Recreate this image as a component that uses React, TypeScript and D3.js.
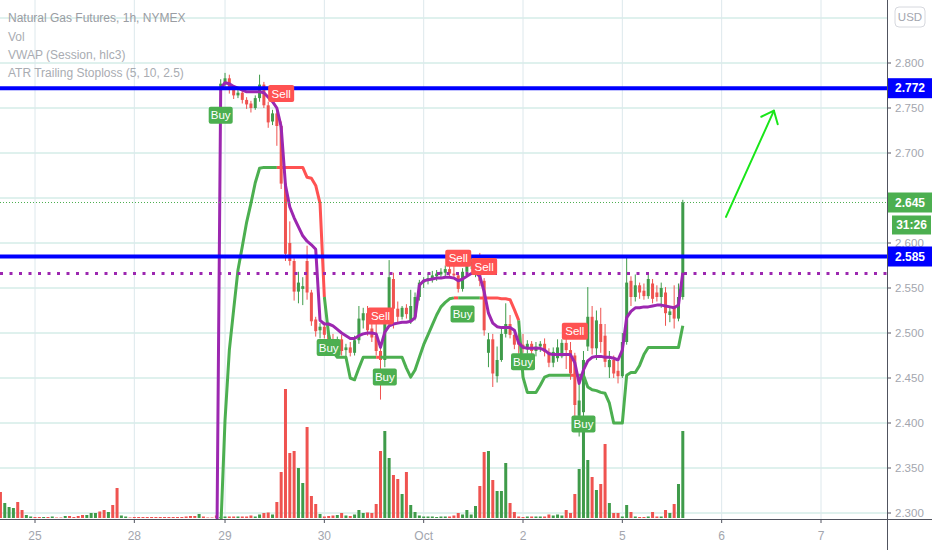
import * as d3 from 'd3'

// hourly candles, first one is bar #52 (bars before it sit below the visible range)
const FIRST_CANDLE = 52
const opens = [
  2.772, 2.776, 2.783, 2.771, 2.764, 2.767, 2.759, 2.755, 2.750, 2.761, 2.776, 2.753, 2.735, 2.744, 2.730, 2.666,
  2.600, 2.580, 2.546, 2.549, 2.580, 2.545, 2.515, 2.503, 2.507, 2.498, 2.492, 2.486, 2.493, 2.481, 2.484, 2.478,
  2.492, 2.514, 2.522, 2.505, 2.497, 2.480, 2.470, 2.515, 2.560, 2.527, 2.518, 2.528, 2.514, 2.518, 2.540, 2.556,
  2.558, 2.561, 2.563, 2.565, 2.567, 2.571, 2.566, 2.564, 2.549, 2.568, 2.576, 2.570, 2.578, 2.558, 2.478, 2.493,
  2.452, 2.470, 2.499, 2.510, 2.498, 2.493, 2.487, 2.482, 2.488, 2.480, 2.485, 2.488, 2.479, 2.467, 2.472, 2.474,
  2.489, 2.481, 2.475, 2.408, 2.412, 2.485, 2.518, 2.483, 2.510, 2.497, 2.462, 2.470, 2.458, 2.452, 2.490, 2.558,
  2.540, 2.553, 2.547, 2.541, 2.555, 2.545, 2.540, 2.545, 2.520, 2.530, 2.516, 2.540,
]
const highs = [
  2.782, 2.789, 2.787, 2.775, 2.770, 2.769, 2.762, 2.758, 2.764, 2.787, 2.779, 2.757, 2.748, 2.751, 2.735, 2.668,
  2.624, 2.583, 2.568, 2.562, 2.597, 2.548, 2.518, 2.511, 2.512, 2.503, 2.499, 2.496, 2.498, 2.488, 2.490, 2.497,
  2.530, 2.528, 2.530, 2.518, 2.510, 2.487, 2.520, 2.581, 2.567, 2.535, 2.530, 2.532, 2.548, 2.545, 2.559, 2.562,
  2.566, 2.569, 2.570, 2.572, 2.575, 2.576, 2.578, 2.567, 2.572, 2.580, 2.584, 2.583, 2.589, 2.561, 2.500, 2.499,
  2.485, 2.505, 2.533, 2.520, 2.501, 2.500, 2.499, 2.492, 2.491, 2.490, 2.491, 2.494, 2.483, 2.484, 2.493, 2.493,
  2.495, 2.490, 2.478, 2.447, 2.480, 2.551, 2.530, 2.525, 2.528, 2.510, 2.480, 2.475, 2.468, 2.500, 2.584, 2.563,
  2.565, 2.556, 2.555, 2.566, 2.560, 2.553, 2.556, 2.551, 2.530, 2.553, 2.555, 2.648,
]
const lows = [
  2.770, 2.772, 2.766, 2.760, 2.761, 2.755, 2.749, 2.745, 2.748, 2.757, 2.750, 2.728, 2.731, 2.708, 2.660, 2.580,
  2.575, 2.536, 2.533, 2.531, 2.537, 2.508, 2.496, 2.494, 2.494, 2.486, 2.480, 2.480, 2.475, 2.474, 2.474, 2.475,
  2.488, 2.505, 2.497, 2.490, 2.475, 2.426, 2.462, 2.508, 2.505, 2.512, 2.515, 2.516, 2.510, 2.514, 2.536, 2.550,
  2.554, 2.556, 2.558, 2.560, 2.563, 2.562, 2.560, 2.545, 2.546, 2.564, 2.571, 2.562, 2.552, 2.497, 2.462, 2.440,
  2.445, 2.468, 2.495, 2.494, 2.482, 2.477, 2.478, 2.477, 2.476, 2.474, 2.479, 2.474, 2.462, 2.462, 2.468, 2.472,
  2.460, 2.448, 2.390, 2.385, 2.395, 2.480, 2.476, 2.470, 2.478, 2.462, 2.450, 2.450, 2.444, 2.450, 2.487, 2.530,
  2.535, 2.538, 2.537, 2.538, 2.533, 2.535, 2.528, 2.508, 2.512, 2.505, 2.513, 2.537,
]
const closes = [
  2.777, 2.783, 2.771, 2.764, 2.767, 2.759, 2.754, 2.750, 2.761, 2.776, 2.753, 2.734, 2.744, 2.730, 2.666, 2.588,
  2.580, 2.546, 2.556, 2.552, 2.545, 2.513, 2.502, 2.507, 2.498, 2.492, 2.485, 2.493, 2.480, 2.484, 2.478, 2.492,
  2.516, 2.522, 2.503, 2.495, 2.480, 2.470, 2.515, 2.562, 2.527, 2.518, 2.528, 2.521, 2.530, 2.540, 2.556, 2.558,
  2.561, 2.564, 2.566, 2.568, 2.571, 2.566, 2.564, 2.549, 2.568, 2.576, 2.579, 2.578, 2.558, 2.503, 2.493, 2.455,
  2.470, 2.499, 2.510, 2.498, 2.487, 2.487, 2.482, 2.488, 2.480, 2.485, 2.488, 2.479, 2.467, 2.479, 2.484, 2.489,
  2.481, 2.455, 2.420, 2.425, 2.470, 2.518, 2.483, 2.514, 2.490, 2.468, 2.470, 2.455, 2.452, 2.490, 2.556, 2.540,
  2.553, 2.545, 2.541, 2.560, 2.538, 2.540, 2.550, 2.522, 2.524, 2.516, 2.540, 2.645,
]

// volume, first bar is #1
const FIRST_VOL = 1
const volumes = [
  26, 15, 11, 10, 16, 8, 3, 1.5, 1, 1, 1, 1, 1.5, 0.5, 0.5, 2, 2, 1, 2, 3, 3, 5, 5, 6.5, 8, 6, 13, 30, 2.5, 1.5,
  0.5, 1, 1, 1, 1, 1, 1, 1, 1, 1, 1, 1, 1, 1.5, 2, 2, 4, 1.5, 0.5, 0.5, 2.5,
  1, 1.5, 1.5, 1.5, 1.5, 1.5, 1.5, 2.5, 1.5, 3.5, 5, 5.5, 3.5, 16, 46, 129, 65, 67, 50, 35, 91, 22, 14, 4,
  1.5, 2, 2.5, 3, 5, 2.5, 2, 3.5, 8, 5, 5.5, 5, 14, 67, 87, 60, 43, 39, 24, 46, 13, 6, 2.5, 1.5,
  1.5, 1.5, 1, 1.5, 1.5, 1.5, 2.5, 5, 3.5, 8, 3.5, 12, 32, 66, 67, 38, 27, 27, 55, 15, 6, 1.5,
  1, 1.5, 1.5, 1.5, 1.5, 1.5, 3.5, 2.5, 3.5, 2.5, 8, 5, 24, 49, 87, 58, 41, 28, 34, 74, 15, 5,
  5, 1.5, 13, 6, 1.5, 1, 1, 1.5, 6, 1.5, 1.5, 8, 5, 14, 34, 87,
]
// up (u) / down (d) for the volume bars before the first visible candle
const earlyVolDir = 'duuudduudd' + 'ududdudddd' + 'uuuddudduu' + 'dddddddddd' + 'dddddduddd' + 'd'

// indicator lines, first value is bar #51
const FIRST_LINE = 51
const vwap = [
  2.20, 2.772, 2.778, 2.777, 2.774, 2.772, 2.770, 2.768, 2.768, 2.768, 2.768, 2.767, 2.762, 2.757, 2.750, 2.729,
  2.664, 2.640, 2.628, 2.618, 2.608, 2.602, 2.598, 2.593, 2.514, 2.510, 2.510, 2.508, 2.504, 2.500, 2.497, 2.494,
  2.494, 2.497, 2.499, 2.500, 2.500, 2.499, 2.484, 2.501, 2.508, 2.510, 2.511, 2.512, 2.512, 2.513, 2.517, 2.553,
  2.558, 2.559, 2.560, 2.561, 2.561, 2.562, 2.562, 2.561, 2.558, 2.560, 2.563, 2.566, 2.567, 2.563, 2.546, 2.522,
  2.511, 2.507, 2.506, 2.506, 2.506, 2.503, 2.489, 2.484, 2.483, 2.483, 2.483, 2.483, 2.481, 2.477, 2.476, 2.476,
  2.476, 2.476, 2.476, 2.467, 2.444, 2.459, 2.469, 2.473, 2.474, 2.474, 2.473, 2.473, 2.472, 2.470, 2.481, 2.517,
  2.524, 2.528, 2.528, 2.529, 2.529, 2.530, 2.531, 2.531, 2.530, 2.529, 2.528, 2.531, 2.567,
]
const atrStop = [
  2.20, 2.28, 2.403, 2.481, 2.526, 2.570, 2.596, 2.623, 2.644, 2.667, 2.683, 2.684, 2.684, 2.684, 2.684, 2.684,
  2.684, 2.684, 2.684, 2.684, 2.684, 2.673, 2.672, 2.664, 2.644, 2.540, 2.498, 2.479, 2.473, 2.473, 2.473, 2.450,
  2.448, 2.461, 2.473, 2.473, 2.473, 2.473, 2.473, 2.473, 2.473, 2.473, 2.473, 2.473, 2.461, 2.451, 2.459, 2.473,
  2.487, 2.498, 2.509, 2.520, 2.529, 2.534, 2.538, 2.539, 2.539, 2.539, 2.539, 2.539, 2.539, 2.539, 2.539, 2.539,
  2.539, 2.539, 2.538, 2.538, 2.537, 2.526, 2.514, 2.451, 2.434, 2.434, 2.434, 2.442, 2.451, 2.453, 2.453, 2.453,
  2.453, 2.453, 2.453, 2.453, 2.453, 2.453, 2.440, 2.437, 2.436, 2.434, 2.433, 2.422, 2.400, 2.400, 2.400, 2.453,
  2.456, 2.456, 2.464, 2.476, 2.484, 2.484, 2.484, 2.484, 2.484, 2.484, 2.484, 2.484, 2.508,
]

// stoploss signals: bar, kind, price where the tag sits
const signalBars = [52, 66, 77, 89, 90, 107, 108, 113, 122, 134, 136]
const signalKinds = ['Buy', 'Sell', 'Buy', 'Sell', 'Buy', 'Sell', 'Buy', 'Sell', 'Buy', 'Sell', 'Buy']
const signalPrices = [2.742, 2.766, 2.484, 2.519, 2.451, 2.583, 2.521, 2.574, 2.468, 2.502, 2.399]

const blueLevels = [2.772, 2.585]
const dottedLevel = 2.566
const lastPrice = 2.645
const countdown = '31:26'

const priceTicks = [2.3, 2.35, 2.4, 2.45, 2.5, 2.55, 2.6, 2.7, 2.75, 2.8]
const gridPrices = [2.3, 2.35, 2.4, 2.45, 2.5, 2.55, 2.6, 2.65, 2.7, 2.75, 2.8, 2.85]
const dayTickBars = [9, 32, 53, 76, 99, 122, 145, 168, 191]
const dayTickLabels = ['25', '28', '29', '30', 'Oct', '2', '5', '6', '7']

const legend = ['Natural Gas Futures, 1h, NYMEX', 'Vol', 'VWAP (Session, hlc3)', 'ATR Trailing Stoploss (5, 10, 2.5)']

// hand-drawn arrow: [bar, price] start and tip
const arrowFrom: [number, number] = [169, 2.629]
const arrowTo: [number, number] = [180.1, 2.747]

const UP = '#3f9b4a'
const DOWN = '#ef5350'
const FONT = 'Liberation Sans, Arial, sans-serif'

export default function App() {
  const PR = 887
  const PB = 519
  const x = d3.scaleLinear().domain([9, 191]).range([35, 821])
  const y = d3.scaleLinear().domain([2.3, 2.8]).range([513, 63])
  const yVol = d3.scaleLinear().domain([0, 129]).range([518, 389])

  const isUp = (i: number) =>
    i >= FIRST_CANDLE
      ? closes[i - FIRST_CANDLE] >= opens[i - FIRST_CANDLE]
      : earlyVolDir[i - FIRST_VOL] === 'u'

  const stateAt = (i: number) => {
    let s = 'Buy'
    signalBars.forEach((b, k) => { if (b <= i) s = signalKinds[k] })
    return s
  }

  const line = d3.line<[number, number]>().x(d => x(d[0])).y(d => y(d[1]))

  // split the stoploss line into runs of the same state
  const runs: { s: string; pts: [number, number][] }[] = []
  for (let k = 1; k < atrStop.length; k++) {
    const i = FIRST_LINE + k
    const s = stateAt(i)
    const last = runs[runs.length - 1]
    if (last && last.s === s) last.pts.push([i, atrStop[k]])
    else runs.push({ s, pts: [[i - 1, atrStop[k - 1]], [i, atrStop[k]]] })
  }
  const vwapPts = vwap.map((v, k) => [FIRST_LINE + k, v] as [number, number])

  // arrow head
  const ax0 = x(arrowFrom[0]), ay0 = y(arrowFrom[1])
  const ax1 = x(arrowTo[0]), ay1 = y(arrowTo[1])
  const ang = Math.atan2(ay0 - ay1, ax0 - ax1)
  const head = [ang - 0.7, ang + 0.7].map(a => [ax1 + 14 * Math.cos(a), ay1 + 14 * Math.sin(a)])

  return (
    <svg width={932} height={550} style={{ position: 'absolute', left: 0, top: 0, background: '#fff' }}
      fontFamily={FONT}>
      <defs>
        <clipPath id="plot"><rect x={0} y={0} width={PR} height={PB} /></clipPath>
      </defs>
      <rect width={932} height={550} fill="#fff" />

      {/* grid */}
      {gridPrices.map(p => (
        <line key={p} x1={0} x2={PR} y1={y(p)} y2={y(p)} stroke="#bfe3dc" strokeWidth={1} />
      ))}
      {dayTickBars.map(b => (
        <line key={b} x1={x(b)} x2={x(b)} y1={0} y2={PB} stroke="#dde8ec" strokeWidth={1} />
      ))}

      <g clipPath="url(#plot)">
        {/* volume */}
        {volumes.map((v, k) => {
          const i = FIRST_VOL + k
          return (
            <rect key={i} x={x(i) - 1.5} y={yVol(v)} width={3} height={518 - yVol(v)}
              fill={isUp(i) ? UP : DOWN} />
          )
        })}

        {/* candles */}
        {opens.map((o, k) => {
          const i = FIRST_CANDLE + k
          const c = closes[k]
          const col = c >= o ? UP : DOWN
          const top = y(Math.max(o, c))
          const h = Math.max(1, y(Math.min(o, c)) - top)
          return (
            <g key={i}>
              <line x1={x(i)} x2={x(i)} y1={y(highs[k])} y2={y(lows[k])} stroke={col} strokeWidth={1} />
              <rect x={x(i) - 1.5} y={top} width={3} height={h} fill={col} />
            </g>
          )
        })}

        {/* ATR trailing stoploss */}
        {runs.map((r, k) => (
          <path key={k} d={line(r.pts) ?? ''} fill="none" stroke={r.s === 'Buy' ? '#4caf50' : '#ff5252'}
            strokeWidth={3} strokeLinejoin="round" />
        ))}

        {/* VWAP */}
        <path d={line(vwapPts) ?? ''} fill="none" stroke="#9c27b0" strokeWidth={3} strokeLinejoin="round" />

        {/* levels */}
        <line x1={0} x2={PR} y1={y(lastPrice)} y2={y(lastPrice)} stroke="#4caf50" strokeWidth={1}
          strokeDasharray="1 2" />
        <line x1={0} x2={PR} y1={y(dottedLevel)} y2={y(dottedLevel)} stroke="#9c27b0" strokeWidth={3}
          strokeDasharray="3 6.5" />
        {blueLevels.map(p => (
          <line key={p} x1={0} x2={PR} y1={y(p)} y2={y(p)} stroke="#0000ff" strokeWidth={4} />
        ))}

        {/* signal tags */}
        {signalBars.map((b, k) => {
          const buy = signalKinds[k] === 'Buy'
          const w = buy ? 24 : 26
          return (
            <g key={b} transform={`translate(${x(b)},${y(signalPrices[k])})`}>
              <rect x={-w / 2} y={-8.5} width={w} height={17} rx={2} fill={buy ? '#4caf50' : '#ff5252'} />
              <text textAnchor="middle" dy="0.36em" fontSize={11.5} fill="#fff">{signalKinds[k]}</text>
            </g>
          )
        })}

        {/* arrow */}
        <g stroke="#19e619" strokeWidth={2} strokeLinecap="round" fill="none">
          <line x1={ax0} y1={ay0} x2={ax1} y2={ay1} />
          {head.map((h, k) => <line key={k} x1={ax1} y1={ay1} x2={h[0]} y2={h[1]} />)}
        </g>
      </g>

      {/* legend */}
      {legend.map((t, k) => (
        <text key={t} x={8} y={18 + k * 18.3} dy="0.35em" fontSize={12} fill={k === 0 ? '#9a9da3' : '#a9acb2'}>{t}</text>
      ))}

      {/* right axis */}
      <line x1={PR + 0.5} x2={PR + 0.5} y1={0} y2={550} stroke="#50535e" strokeWidth={1} />
      {priceTicks.map(p => (
        <g key={p}>
          <line x1={PR} x2={PR + 4} y1={y(p)} y2={y(p)} stroke="#50535e" />
          <text x={895} y={y(p)} dy="0.35em" fontSize={11.5} fill="#a3a6ae">{p.toFixed(3)}</text>
        </g>
      ))}
      <rect x={895} y={7} width={30} height={20} rx={4} fill="#fff" stroke="#d6d8de" />
      <text x={910} y={17} dy="0.35em" textAnchor="middle" fontSize={11.5} fill="#a3a6ae">USD</text>

      {/* price tags */}
      <rect x={PR + 1} y={y(lastPrice) - 10} width={45} height={20} fill="#4caf50" />
      <text x={895} y={y(lastPrice)} dy="0.35em" fontSize={12} fontWeight="bold" fill="#fff">{lastPrice.toFixed(3)}</text>
      <rect x={892} y={y(lastPrice) + 13} width={39} height={19} fill="#4caf50" />
      <text x={911.5} y={y(lastPrice) + 22.5} dy="0.35em" textAnchor="middle" fontSize={12} fontWeight="bold"
        fill="#fff">{countdown}</text>
      {blueLevels.map(p => (
        <g key={p}>
          <rect x={PR + 1} y={y(p) - 10} width={45} height={20} fill="#0000ff" />
          <text x={895} y={y(p)} dy="0.35em" fontSize={12} fontWeight="bold" fill="#fff">{p.toFixed(3)}</text>
        </g>
      ))}

      {/* time axis */}
      <line x1={0} x2={932} y1={PB + 0.5} y2={PB + 0.5} stroke="#50535e" strokeWidth={1} />
      {dayTickBars.map((b, k) => (
        <g key={b}>
          <line x1={x(b)} x2={x(b)} y1={PB} y2={PB + 4} stroke="#50535e" />
          <text x={x(b)} y={536} dy="0.35em" textAnchor="middle" fontSize={12} fill="#a3a6ae">{dayTickLabels[k]}</text>
        </g>
      ))}
    </svg>
  )
}
